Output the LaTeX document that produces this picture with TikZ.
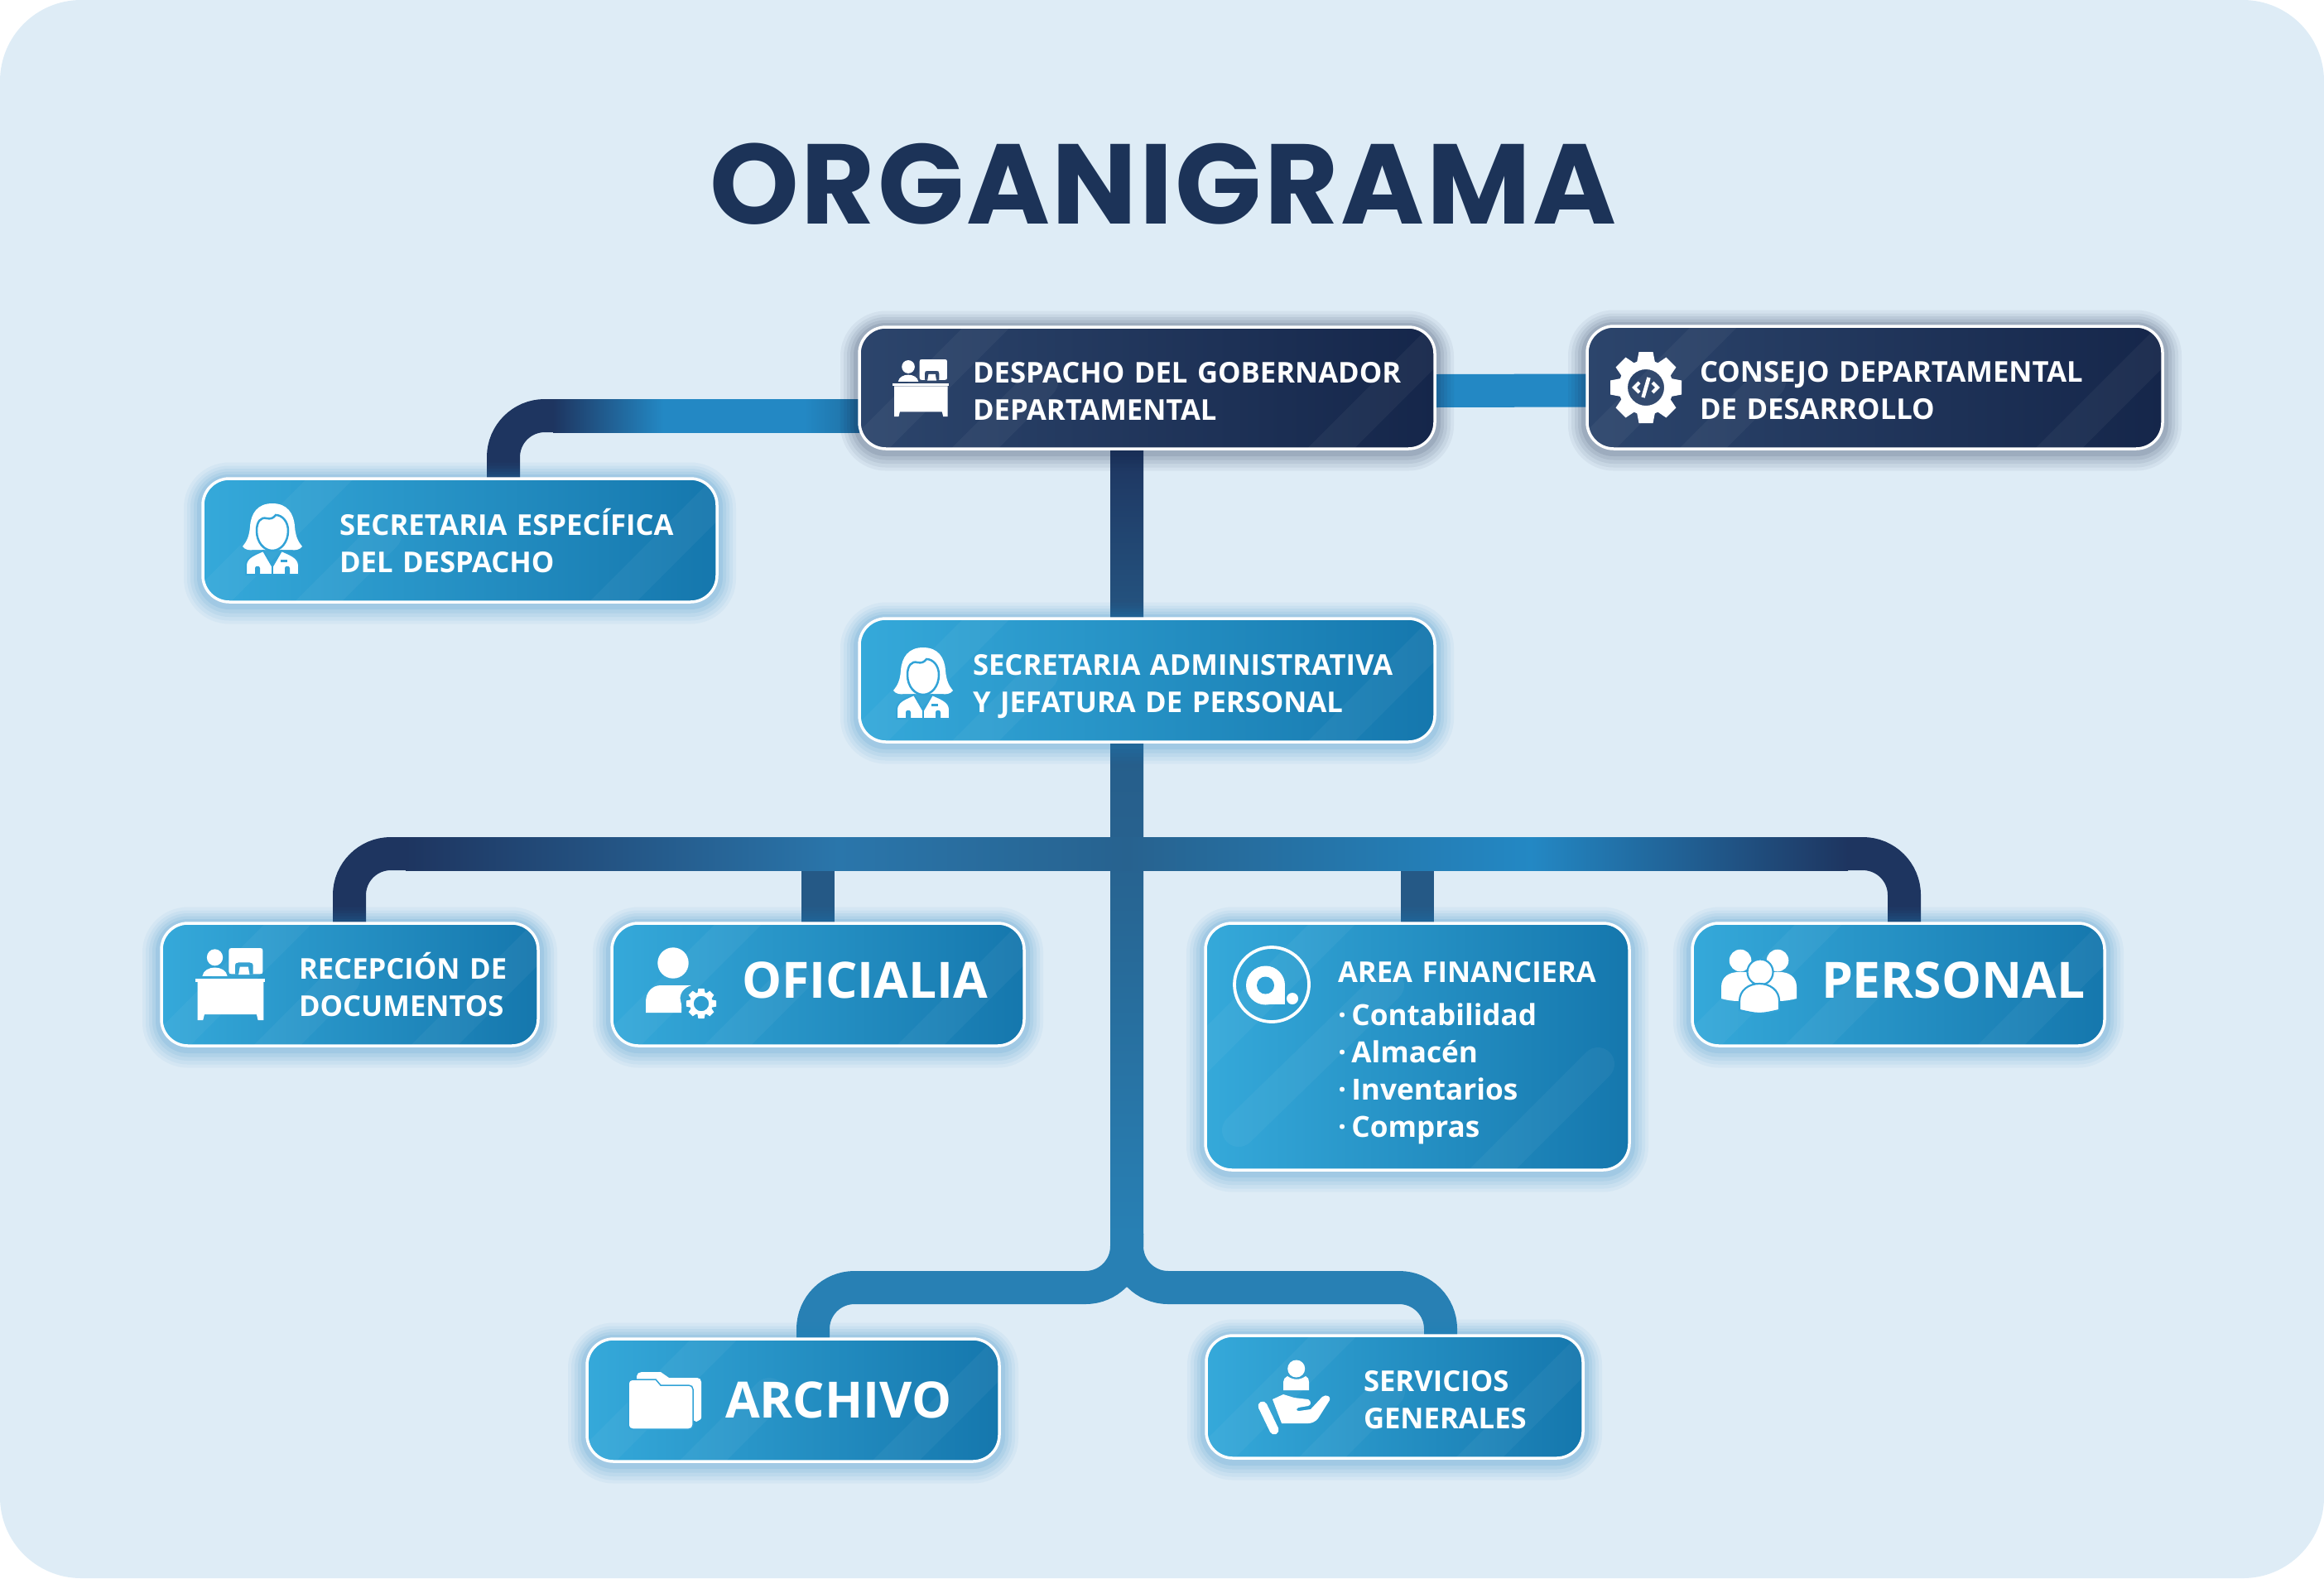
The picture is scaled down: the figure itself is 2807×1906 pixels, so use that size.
\documentclass[tikz,border=0pt]{standalone}
\usepackage{fontspec}
\setmainfont{Open Sans}
\newfontfamily\titulofont{Poppins}[LetterSpace=2]
\usetikzlibrary{backgrounds,calc}

\definecolor{fondo}{HTML}{DEECF6}
\definecolor{marino}{HTML}{1E3560}
\definecolor{titulo}{HTML}{1C3358}
\definecolor{azulA}{HTML}{35A9DA}
\definecolor{azulB}{HTML}{1F83C2}
\definecolor{azulC}{HTML}{1577AD}
\definecolor{navA}{HTML}{2C456C}
\definecolor{navB}{HTML}{1F3358}
\definecolor{navC}{HTML}{15264A}
\definecolor{hueco}{HTML}{32A3D7}
\definecolor{lineaA}{HTML}{2A76AB}
\definecolor{lineaB}{HTML}{27628F}
\definecolor{lineaC}{HTML}{2388C4}
\definecolor{lineaD}{HTML}{2880B4}
\definecolor{lineaE}{HTML}{1F6FA3}

\pgfdeclarehorizontalshading{barra}{100bp}{color(0bp)=(marino); color(25bp)=(marino); color(40bp)=(lineaA); color(50bp)=(lineaB); color(64bp)=(lineaC); color(75bp)=(marino); color(100bp)=(marino)}
\pgfdeclarehorizontalshading{ramal}{100bp}{color(0bp)=(marino); color(25bp)=(marino); color(43bp)=(lineaC); color(66bp)=(lineaC); color(75bp)=(lineaE); color(100bp)=(lineaE)}

\tikzset{
    caja/.style={anchor=north west, rounded corners=3.2mm, draw=white, line width=.35mm, align=left,
        inner xsep=0pt, inner ysep=0pt, outer sep=0pt, text=white,
        font=\fontsize{9.85}{12.8}\selectfont\bfseries},
    ancho/.style={text width=#1, minimum width=#1},
    alto/.style={minimum height=#1},
    sangria/.style={execute at begin node={\leftskip=#1\relax\rule{0pt}{13pt}}, execute at end node={\rule[-3.84pt]{0pt}{0pt}}},
    sangriab/.style={execute at begin node={\leftskip=#1\relax}},
    grande/.style={font=\fontsize{17.2}{20}\selectfont\bfseries},
    brillo/.style={
        preaction={draw=#1, opacity=.05, line width=4.6mm, transform canvas={yshift=-.35mm}},
        preaction={draw=#1, opacity=.06, line width=3.8mm, transform canvas={yshift=-.35mm}},
        preaction={draw=#1, opacity=.07, line width=3mm, transform canvas={yshift=-.3mm}},
        preaction={draw=#1, opacity=.08, line width=2.2mm, transform canvas={yshift=-.25mm}},
        preaction={draw=#1, opacity=.1, line width=1.4mm, transform canvas={yshift=-.2mm}}},
    bandas/.style={path picture={
        \draw[white, opacity=.045, line width=4mm] ($(path picture bounding box.north west)+(170,-16)$) -- ++(-190,190);
        \draw[white, opacity=.045, line width=4mm, line cap=round] ($(path picture bounding box.south west)+(125,14)$) -- ++(95,-95);
        \draw[white, opacity=.045, line width=4mm] ($(path picture bounding box.south east)+(-140,14)$) -- ++(170,-170);
    }},
    bandasalta/.style={path picture={
        \draw[white, opacity=.045, line width=4mm] ($(path picture bounding box.north west)+(170,-16)$) -- ++(-190,190);
        \draw[white, opacity=.045, line width=4mm, line cap=round] ($(path picture bounding box.north west)+(40,250)$) -- ++(180,-175);
        \draw[white, opacity=.045, line width=4mm, line cap=round] ($(path picture bounding box.north west)+(474,170)$) -- ++(-160,160);
    }},
    azul/.style={left color=azulA, middle color=azulB, right color=azulC, brillo=azulB},
    oscuro/.style={left color=navA, middle color=navB, right color=navC, brillo=navC},
    linea/.style={line width=4mm, draw=#1},
    linea/.default=marino,
    escritorio/.pic={
        \fill[white] (28,13) circle [radius=11.5];
        \fill[white] (10,39) .. controls (11,31) and (20,27) .. (28,27) .. controls (36,27) and (45,31) .. (46,39) -- cycle;
        \fill[white, even odd rule] (52,0) -- (93,0) .. controls (96,0) and (97,1) .. (97,4) -- (97,32) .. controls (97,35) and (96,36) .. (93,36) -- (52,36) .. controls (49,36) and (48,35) .. (48,32) -- (48,4) .. controls (48,1) and (49,0) .. (52,0) -- cycle
            (57,36) -- (57,25) .. controls (57,21) and (59,20) .. (62,20) -- (78,20) .. controls (81,20) and (83,21) .. (83,25) -- (83,36) -- cycle;
        \fill[white] (62,37) -- (64,26) -- (76,26) -- (78,37) -- cycle;
        \fill[white] (0,42) rectangle (100,47);
        \fill[white] (3,47) -- (98,47) -- (98,100) -- (90,100) -- (88,92) -- (13,92) -- (11,100) -- (3,100) -- cycle;
    },
    secretaria/.pic={
        % pelo
        \fill[white] (36,0) .. controls (18,0) and (10,12) .. (9,28) .. controls (8,40) and (5,46) .. (0,52) .. controls (3,56) and (8,57) .. (14,56) -- (58,56) .. controls (64,57) and (69,56) .. (72,52) .. controls (67,46) and (64,40) .. (63,28) .. controls (62,12) and (54,0) .. (36,0) -- cycle;
        % cara
        \filldraw[fill=white, draw=hueco, line width=.25mm] (17,33) .. controls (17,22) and (22,16) .. (29,18) .. controls (34,19) and (37,18) .. (40,14) .. controls (48,14) and (55,22) .. (55,33) .. controls (55,47) and (46,57) .. (36,57) .. controls (26,57) and (17,47) .. (17,33) -- cycle;
        % cuerpo
        \filldraw[fill=white, draw=hueco, line width=.2mm] (4,86) -- (4,74) .. controls (5,65) and (14,62) .. (25,57) -- (36,76) -- (47,57) .. controls (58,62) and (67,65) .. (68,74) -- (68,86) -- cycle;
        \draw[hueco, line width=.2mm] (36,76) -- (36,86);
        \fill[hueco] (15,86) -- (15,78) .. controls (15,75) and (21,75) .. (21,78) -- (21,86) -- cycle;
        \fill[hueco] (51,86) -- (51,78) .. controls (51,75) and (57,75) .. (57,78) -- (57,86) -- cycle;
        \fill[hueco] (46,68) rectangle (54,71);
    },
    engrane/.pic={
        \foreach \a in {0,45,...,315}
            \fill[white, rotate=\a] (-8.5,-43) -- (8.5,-43) -- (11,-30) -- (-11,-30) -- cycle;
        \fill[white, even odd rule] (0,0) circle [radius=33] (0,0) circle [radius=22];
    },
}

\begin{document}
\begin{tikzpicture}[x=0.1mm,y=-0.1mm]
    \useasboundingbox (0,0) rectangle (2807,1906);

    % titulo
    \node[anchor=base, text=titulo, font=\fontsize{39}{41}\selectfont\titulofont\bfseries] (tit) at (1405,270) {ORGANIGRAMA};

    % cajas
    \node[caja, oscuro, bandas, ancho=69.5mm, alto=14.7mm, sangria=13.7mm] (desp) at (1038,395) {DESPACHO DEL GOBERNADOR\\DEPARTAMENTAL};
    \node[caja, oscuro, bandas, ancho=69.5mm, alto=14.8mm, sangria=13.6mm] (cons) at (1917,394) {CONSEJO DEPARTAMENTAL\\DE DESARROLLO};
    \node[caja, azul, bandas, ancho=62.1mm, alto=14.9mm, sangria=16.5mm] (secesp) at (245,578) {SECRETARIA ESPECÍFICA\\DEL DESPACHO};
    \node[caja, azul, bandas, ancho=69.5mm, alto=14.9mm, sangria=13.7mm] (secadm) at (1038,747) {SECRETARIA ADMINISTRATIVA\\Y JEFATURA DE PERSONAL};
    \node[caja, azul, bandas, ancho=45.5mm, alto=14.8mm, sangria=16.6mm] (recep) at (195,1115) {RECEPCIÓN DE\\DOCUMENTOS};
    \node[caja, azul, bandas, grande, ancho=49.8mm, alto=14.8mm, sangria=15.7mm] (ofic) at (739,1115) {OFICIALIA};
    \node[caja, azul, bandasalta, ancho=51.2mm, alto=29.8mm, sangria=16mm] (fin) at (1456,1115) {AREA FINANCIERA\\[2pt]\fontsize{10}{12.8}\selectfont\spaceskip=.18em · Contabilidad\\· Almacén\\· Inventarios\\· Compras};
    \node[caja, azul, bandas, grande, ancho=49.8mm, alto=14.8mm, sangria=15.6mm] (pers) at (2044,1115) {PERSONAL};
    \node[caja, azul, bandas, grande, ancho=49.8mm, alto=14.8mm, sangriab=16.7mm] (arch) at (709,1617) {ARCHIVO};
    \node[caja, azul, bandas, ancho=45.5mm, alto=14.8mm, sangria=19mm] (serv) at (1457,1613) {SERVICIOS\\GENERALES};

    % puntos de la red
    \coordinate (troncoA) at ([xshift=-2.45mm]desp.south);
    \coordinate (troncoB) at ([xshift=-2.45mm]secadm.north);
    \coordinate (troncoC) at ([xshift=-2.45mm]secadm.south);
    \coordinate (troncoD) at (1361,1490);
    \coordinate (cruce) at (1361,1031);
    \coordinate (horca) at (1361,1555);
    \coordinate (codoA) at (608,502);
    \coordinate (codoB) at (422,1031);
    \coordinate (codoC) at (2300,1031);
    \coordinate (codoD) at (982,1555);
    \coordinate (codoE) at (1740,1555);

    \begin{scope}[on background layer]
        % fondo
        \fill[fondo, rounded corners=9.8mm] (0,0) rectangle (2807,1906);

        % despacho
        \draw[linea=lineaC] ([yshift=-.35mm]desp.east) -- ([yshift=-.35mm]cons.west);
        \draw[linea, rounded corners=5mm] (codoA -| desp.west) -- (codoA) -- (codoA |- secesp.north);
        \shade[shading=ramal] ($(codoA)+(60,-20)$) rectangle ($(codoA -| desp.west)+(0,20)$);
        \shade[top color=marino, bottom color=lineaB!70!marino] ($(troncoA)+(-20,0)$) rectangle ($(troncoB)+(20,0)$);

        % tronco
        \shade[top color=lineaB!90!marino, bottom color=lineaB] ($(troncoC)+(-20,0)$) rectangle ($(cruce)+(20,0)$);
        \shade[top color=lineaB, bottom color=lineaD] ($(cruce)+(-20,0)$) rectangle ($(troncoD)+(20,0)$);

        % barra
        \draw[linea=lineaB!80!marino] (ofic.north |- cruce) -- (ofic.north);
        \draw[linea=lineaB!80!marino] (fin.north |- cruce) -- (fin.north);
        \draw[linea, rounded corners=5mm] (codoB |- recep.north) -- (codoB) -- ++(90,0);
        \draw[linea, rounded corners=5mm] (codoC |- pers.north) -- (codoC) -- ++(-90,0);
        \shade[shading=barra] (490,1011) rectangle (2232,1051);

        % horquilla
        \draw[linea=lineaD, rounded corners=5mm] (troncoD) -- (horca) -- (codoD) -- ([xshift=2.4mm]arch.north);
        \draw[linea=lineaD, rounded corners=5mm] (troncoD) -- (horca) -- (codoE) -- ([xshift=5.55mm]serv.north);
    \end{scope}

    % iconos
    \pic[xscale=.68, yscale=.69] at (1078,434) {escritorio};
    \pic[xscale=.84, yscale=.87] at (236,1145) {escritorio};
    \pic at (293,608) {secretaria};
    \pic at (1079,782) {secretaria};

    % engrane con codigo
    \pic at (1988,468) {engrane};
    \draw[white, line width=.45mm] (1984.5,480) -- (1991.5,456);
    \draw[white, line width=.4mm] (1980,462) -- (1974,468) -- (1980,474);
    \draw[white, line width=.4mm] (1996,462) -- (2002,468) -- (1996,474);

    % persona con engrane
    \fill[white] (813,1163) circle [radius=18.7];
    \fill[white] (780,1223) -- (780,1210) .. controls (780,1198) and (788,1190) .. (798,1190) -- (835,1190) .. controls (825,1193) and (820,1201) .. (822,1209) .. controls (824,1214) and (823,1220) .. (823,1223) -- cycle;
    \pic[scale=.42] at (847,1212) {engrane};

    % Q en circulo
    \draw[white, line width=.38mm] (1536,1189) ellipse [x radius=45, y radius=45];
    \fill[white] (1528.5,1190) circle [radius=23.5];
    \fill[white] (1528,1190) rectangle (1552,1213);
    \fill[hueco] (1528.5,1190) circle [radius=10.5];
    \fill[white] (1561,1206) circle [radius=7];

    % grupo
    \fill[white] (2102,1160) circle [radius=13.3];
    \fill[white] (2147,1160) circle [radius=13.3];
    \fill[white] (2079,1206) -- (2079,1192) .. controls (2079,1180) and (2088,1174) .. (2100,1174) -- (2150,1174) .. controls (2161,1174) and (2170,1180) .. (2170,1192) -- (2170,1206) .. controls (2162,1208) and (2155,1209) .. (2148,1209) -- (2100,1209) .. controls (2093,1209) and (2086,1208) .. (2079,1206) -- cycle;
    \filldraw[fill=white, draw=hueco, line width=.22mm] (2126,1174) circle [radius=15.5];
    \filldraw[fill=white, draw=hueco, line width=.22mm] (2101,1220) -- (2101,1209) .. controls (2101,1196) and (2112,1188) .. (2125,1188) .. controls (2138,1188) and (2149,1196) .. (2149,1209) -- (2149,1220) .. controls (2140,1222) and (2132,1224) .. (2125,1224) .. controls (2118,1224) and (2110,1222) .. (2101,1220) -- cycle;

    % carpeta
    \fill[white] (769,1666) -- (769,1662) .. controls (769,1659) and (772,1657) .. (775,1657) -- (798,1657) -- (808,1664) -- (842,1664) .. controls (845,1664) and (847,1666) .. (847,1669) -- (847,1712) .. controls (847,1714) and (844,1716) .. (841,1717) -- (810,1700) -- cycle;
    \filldraw[fill=white, draw=hueco, line width=.15mm] (759,1671) .. controls (759,1668) and (761,1666) .. (764,1666) -- (792,1666) -- (798,1673) -- (832,1673) .. controls (835,1673) and (837,1675) .. (837,1678) -- (837,1721) .. controls (837,1724) and (835,1726) .. (832,1726) -- (764,1726) .. controls (761,1726) and (759,1724) .. (759,1721) -- cycle;

    % mano con persona
    \fill[white] (1565.7,1653) circle [radius=10.5];
    \fill[white] (1550,1679) -- (1550,1669) .. controls (1550,1666) and (1552,1663) .. (1555,1662) .. controls (1562,1667) and (1570,1667) .. (1577,1662) .. controls (1580,1663) and (1581,1666) .. (1581,1669) -- (1581,1679) -- cycle;
    \fill[white] (1537,1690) -- (1550,1684) -- (1563,1688) -- (1580,1690) .. controls (1584,1692) and (1584,1697) .. (1580,1698) -- (1568,1700) .. controls (1565,1702) and (1566,1704) .. (1569,1704) -- (1583,1702) -- (1597,1687) .. controls (1602,1683) and (1608,1687) .. (1606,1691) -- (1592,1713) .. controls (1589,1717) and (1584,1719) .. (1580,1719) -- (1548,1719) -- cycle;
    \draw[white, line width=1.1mm, line cap=round] (1525,1698) -- (1539,1727);
\end{tikzpicture}
\end{document}
